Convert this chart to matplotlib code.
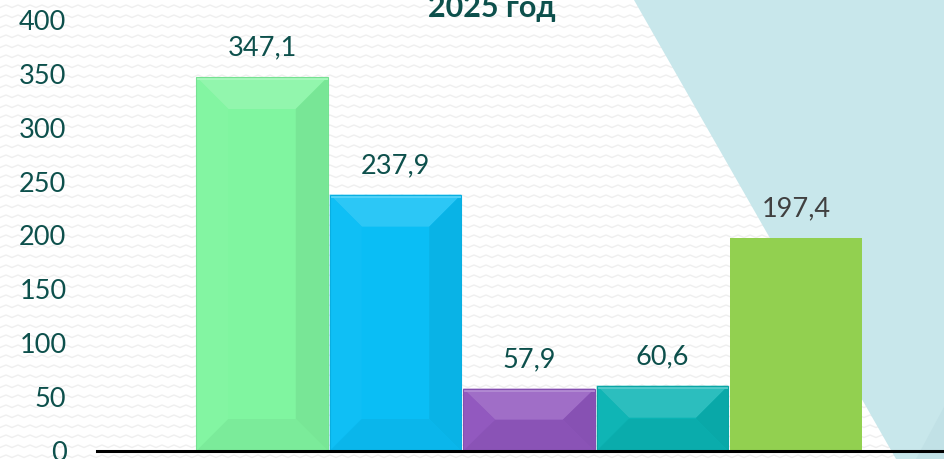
import matplotlib.pyplot as plt
import numpy as np
from matplotlib.patches import Polygon
from matplotlib.colors import to_rgb

values = [347.1, 237.9, 57.9, 60.6, 197.4]
labels = ['347,1', '237,9', '57,9', '60,6', '197,4']
yticks = [0, 50, 100, 150, 200, 250, 300, 350, 400]
title = '2025 год'

colors = ['#80F5A0', '#0ABEF5', '#9056BE', '#0AB3B3', '#92D050']
bevel = [True, True, True, True, False]
label_colors = ['#0D504C', '#0D504C', '#0D504C', '#0D504C', '#404040']
teal = '#0D504C'


def mix(c, other, t):
    a = np.array(to_rgb(c))
    b = np.array(to_rgb(other))
    return tuple(a * (1 - t) + b * t)


plt.rcParams['font.family'] = ['Lato', 'DejaVu Sans']

W, H = 945, 459
fig = plt.figure(figsize=(W / 100, H / 100), dpi=100)
fig.patch.set_facecolor('white')

# background: faint wavy texture and light blue shapes
bg = fig.add_axes([0, 0, 1, 1], zorder=0)
bg.set_xlim(0, W)
bg.set_ylim(H, 0)
bg.axis('off')
xs = np.arange(0, W + 1)
wave = 2.5 * np.abs(((xs / 6.0) % 2) - 1)
for y0 in range(-5, H + 10, 10):
    bg.plot(xs, y0 + wave, color='#EFEFEF', lw=1.0, zorder=1)
bg.add_patch(Polygon([(634, 0), (W, 0), (W, H), (896, H)], closed=True,
                     facecolor='#C8E7EB', edgecolor='none', zorder=3))
bg.add_patch(Polygon([(W, 405), (W, H), (916, H)], closed=True,
                     facecolor='#C1E1E6', edgecolor='none', zorder=4))

# main chart
ax = fig.add_axes([97 / W, 8 / H, 848 / W, 431 / H], zorder=1)
ax.set_facecolor('none')
x = np.arange(len(values))
w = 0.985
ax.set_xlim(-1.236, 5.116)
ax.set_ylim(0, 400)

bars = ax.bar(x, values, w, color=colors, zorder=2)

dxpp = (5.116 + 1.236) / 848
dypp = 400 / 431

for i, (v, c, b) in enumerate(zip(values, colors, bevel)):
    if not b:
        continue
    x0, x1 = i - w / 2, i + w / 2
    bx = min(32 * dxpp, w / 2)
    by = min(32 * dypp, v / 2)
    top = [(x0, v), (x1, v), (x1 - bx, v - by), (x0 + bx, v - by)]
    left = [(x0, 0), (x0, v), (x0 + bx, v - by), (x0 + bx, by)]
    right = [(x1, 0), (x1, v), (x1 - bx, v - by), (x1 - bx, by)]
    bottom = [(x0, 0), (x1, 0), (x1 - bx, by), (x0 + bx, by)]
    ax.add_patch(Polygon(top, facecolor=mix(c, 'white', 0.14), edgecolor='none', zorder=3))
    ax.add_patch(Polygon(left, facecolor=mix(c, 'white', 0.02), edgecolor='none', zorder=3))
    ax.add_patch(Polygon(right, facecolor=mix(c, 'black', 0.06), edgecolor='none', zorder=3))
    ax.add_patch(Polygon(bottom, facecolor=mix(c, 'black', 0.04), edgecolor='none', zorder=3))
    ax.add_patch(plt.Rectangle((x0, v - 3 * dypp), w, 3 * dypp,
                               facecolor=mix(c, 'white', 0.3), edgecolor='none', zorder=4))
    ax.add_patch(plt.Rectangle((x0, 0), w, v, fill=False,
                               edgecolor=mix(c, 'black', 0.08), lw=0.8, zorder=4))

for i, (v, lab, lc) in enumerate(zip(values, labels, label_colors)):
    ax.text(i, v + 29 * dypp, lab, ha='center', va='center',
            fontsize=19.5, color=lc, zorder=5)

ax.set_yticks(yticks)
ax.set_xticks([])
ax.tick_params(axis='y', length=0, pad=22, labelsize=19.5, labelcolor=teal)
for s in ['top', 'left', 'right']:
    ax.spines[s].set_visible(False)
ax.spines['bottom'].set_linewidth(2.2)
ax.spines['bottom'].set_color('black')
ax.spines['bottom'].set_zorder(6)

fig.text(492 / W, 1 - 17 / H, title, ha='center', va='baseline',
         fontsize=22, fontweight='bold', color=teal)

fig.savefig('out.png', dpi=100)
